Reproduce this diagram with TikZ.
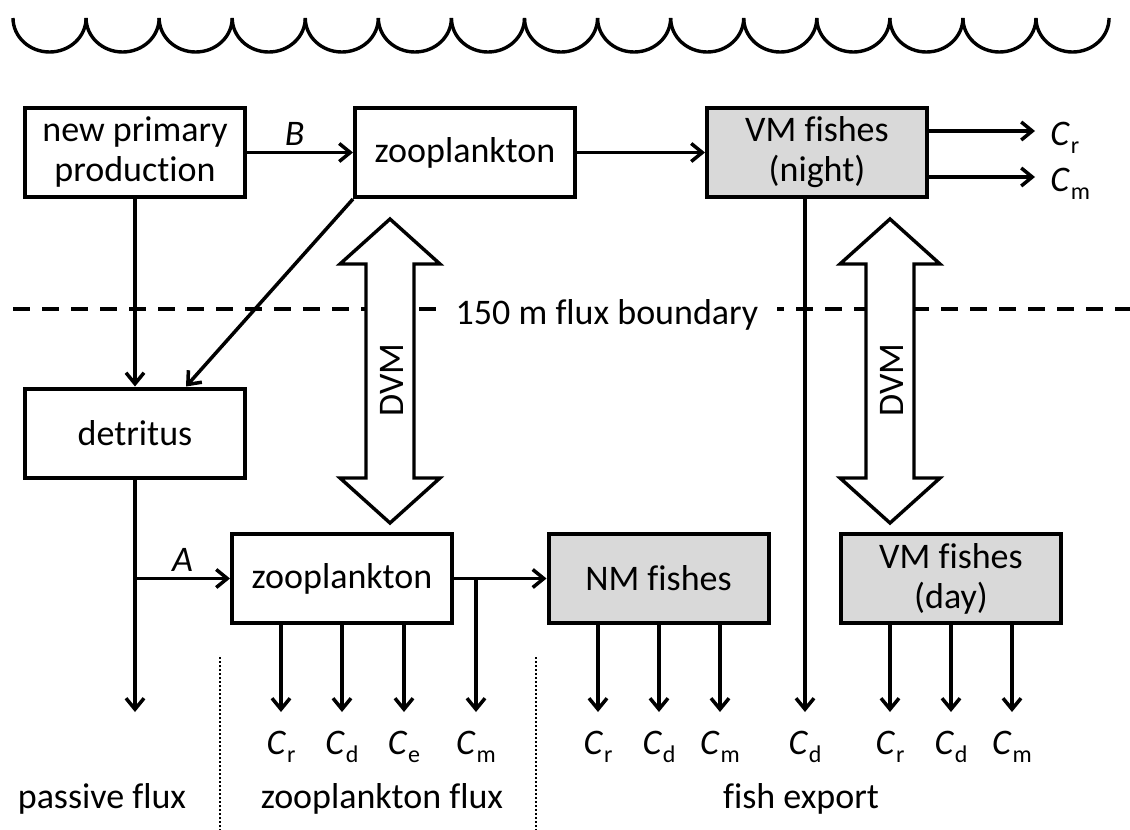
\documentclass[tikz,border=0pt]{standalone}
\usepackage{fontspec}
\setmainfont{Carlito}[Ligatures=NoCommon]
\usetikzlibrary{arrows.meta,positioning}
\definecolor{fishgray}{RGB}{217,217,217}
\newcommand{\Cs}[1]{\textit{C}\kern0.4pt\raisebox{-4pt}{\fontsize{12}{14}\selectfont #1}}

\begin{document}
\begin{tikzpicture}[x=0.5pt, y=-0.5pt, font=\fontsize{18}{20}\selectfont,
	arr/.style={-{Straight Barb[length=5.5pt,width=9pt]}, line width=1.75pt},
	flowlab/.style={inner sep=2.5pt, font=\fontsize{18}{20}\selectfont\itshape},
	clab/.style={inner sep=0pt, anchor=north},
	rlab/.style={inner sep=0pt, anchor=west, text height=14pt, text depth=0pt}]
	\useasboundingbox (0,0) rectangle (1130,830);
	
	% sea surface
	\foreach \i in {0,...,14}
	\draw[line width=1.7pt] ({13+73.07*\i},18) arc[start angle=180, end angle=360, x radius=18.27pt, y radius=17pt];
	
	% flux boundary
	\coordinate (bl) at (13,309);
	\coordinate (br) at (1130,309);
	\draw[line width=1.6pt, dash pattern=on 8.5pt off 6pt] (bl) -- (br);
	\node[fill=white, inner xsep=9.5pt, inner ysep=4.75pt] (bnd) at (607,315) {150 m flux boundary};
	
	% DVM arrows
	\foreach \cx/\nm in {390/dvmzoo, 890/dvmfish} {
		\draw[line width=1.7pt, fill=white] (\cx,219) -- ++(50,45) -- ++(-26,0) -- ++(0,214) -- ++(26,0) -- (\cx,523) -- ++(-50,-45) -- ++(26,0) -- ++(0,-214) -- ++(-26,0) -- cycle;
		\node[rotate=90] (\nm) at ({\cx+2},380) {DVM};
	}
	
	\begin{scope}[every node/.style={draw, line width=2pt, minimum width=110pt, minimum height=44.5pt, inner sep=0pt, align=center}]
		\node (npp) at (135,152.5) {new primary\\production};
		\node (upzoo) at (465,152.5) {zooplankton};
		\node[fill=fishgray] (vmn) at (817,152.5) {VM fishes\\(night)};
		\node (det) at (135,433) {detritus};
		\node (lozoo) at (342,578.5) {zooplankton};
		\node[fill=fishgray] (nmf) at (658.5,578.5) {NM fishes};
		\node[fill=fishgray] (vmd) at (951,578.5) {VM fishes\\(day)};
	\end{scope}
	
	% export labels
	\foreach \x/\s/\n in {281/r/zr, 342/d/zd, 404/e/ze, 476/m/zm, 598/r/nr, 659/d/nd, 720/m/nm, 805/d/vd, 890/r/dr, 951/d/dd, 1012/m/dm}
	\node[clab] (\n) at (\x,731) {\Cs{\s}};
	\node[rlab] (vr) at (1050,131) {\Cs{r}};
	\node[rlab] (vm) at (1050,177) {\Cs{m}};
	\coordinate (pfend) at (135,712);
	
	\draw[arr] (npp) -- node[above, pos=0.45, flowlab] {B} (upzoo);
	\draw[arr] (upzoo) -- (vmn);
	\draw[arr] (npp) -- (det);
	\draw[arr] (upzoo.south west) -- ([xshift=25.5pt]det.north);
	\draw[arr] (det.south |- lozoo.west) -- node[above, flowlab] {A} (lozoo.west);
	\draw[arr] (det.south) -- (pfend);
	\draw[arr] (lozoo) -- (nmf);
	\draw[arr, shorten >=7.5pt] (vmn.east |- vr.west) -- (vr.west);
	\draw[arr, shorten >=7.5pt] (vmn.east |- vm.west) -- (vm.west);
	\begin{scope}[every path/.style={arr, shorten >=9.5pt}]
		\draw (lozoo.east -| zm) -- (zm.north);
		\draw (vmn.south -| vd) -- (vd.north);
		\foreach \n in {zr, zd, ze}
		\draw (lozoo.south -| \n) -- (\n.north);
		\foreach \n in {nr, nd, nm}
		\draw (nmf.south -| \n) -- (\n.north);
		\foreach \n in {dr, dd, dm}
		\draw (vmd.south -| \n) -- (\n.north);
	\end{scope}
	
	% dividers and region names
	\coordinate (div1a) at (220,657);
	\coordinate (div1b) at (220,830);
	\coordinate (div2a) at (536,657);
	\coordinate (div2b) at (536,830);
	\draw[line width=1pt, dash pattern=on 1pt off 1pt] (div1a) -- (div1b) (div2a) -- (div2b);
	\node[anchor=base] (pasf) at (102,808) {passive flux};
	\node[anchor=base] (zoof) at (382,808) {zooplankton flux};
	\node[anchor=base] (fexp) at (801,808) {fish export};
\end{tikzpicture}
\end{document}
